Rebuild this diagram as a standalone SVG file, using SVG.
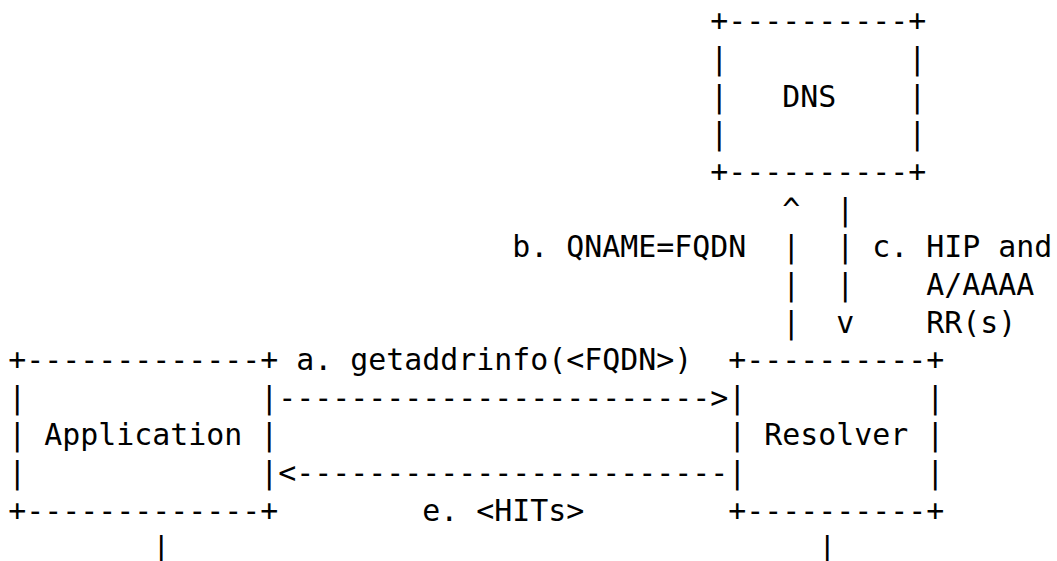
<svg xmlns="http://www.w3.org/2000/svg" width="1057" height="561" viewBox="0 0 1057 561" xml:space="preserve">
<style>
  text { font-family: "DejaVu Sans Mono", "Liberation Mono", monospace; font-size: 29.9px; fill: #000; white-space: pre; }
</style>
<rect x="0" y="0" width="1057" height="561" fill="#ffffff"/>
<g id="node-dns">
  <text x="710.3" y="31.3">+----------+</text>
  <text x="710.3" y="68.95">|          |</text>
  <text x="710.3" y="106.6">|   DNS    |</text>
  <text x="710.3" y="144.25">|          |</text>
  <text x="710.3" y="181.9">+----------+</text>
</g>
<g id="node-application">
  <text x="8.3" y="370.15">+-------------+</text>
  <text x="8.3" y="407.8">|             |</text>
  <text x="8.3" y="445.45">| Application |</text>
  <text x="8.3" y="483.1">|             |</text>
  <text x="8.3" y="520.75">+-------------+</text>
</g>
<g id="node-resolver">
  <text x="728.3" y="370.15">+----------+</text>
  <text x="728.3" y="407.8">|          |</text>
  <text x="728.3" y="445.45">| Resolver |</text>
  <text x="728.3" y="483.1">|          |</text>
  <text x="728.3" y="520.75">+----------+</text>
</g>
<g id="connectors">
  <g id="edge-b-query">
    <text x="782.3" y="219.55">^</text>
    <text x="782.3" y="257.2">|</text>
    <text x="782.3" y="294.85">|</text>
    <text x="782.3" y="332.5">|</text>
    <text x="512.3" y="257.2">b. QNAME=FQDN</text>
  </g>
  <g id="edge-c-response">
    <text x="836.3" y="219.55">|</text>
    <text x="836.3" y="257.2">|</text>
    <text x="836.3" y="294.85">|</text>
    <text x="836.3" y="332.5">v</text>
    <text x="872.3" y="257.2">c. HIP and</text>
    <text x="926.3" y="294.85">A/AAAA</text>
    <text x="926.3" y="332.5">RR(s)</text>
  </g>
  <g id="edge-a-getaddrinfo">
    <text x="278.3" y="407.8">------------------------&gt;</text>
    <text x="296.3" y="370.15">a. getaddrinfo(&lt;FQDN&gt;)</text>
  </g>
  <g id="edge-e-hits">
    <text x="278.3" y="483.1">&lt;------------------------</text>
    <text x="422.3" y="520.75">e. &lt;HITs&gt;</text>
  </g>
  <g id="tails">
    <text x="152.3" y="558.4">|</text>
    <text x="818.3" y="558.4">|</text>
  </g>
</g>
</svg>
